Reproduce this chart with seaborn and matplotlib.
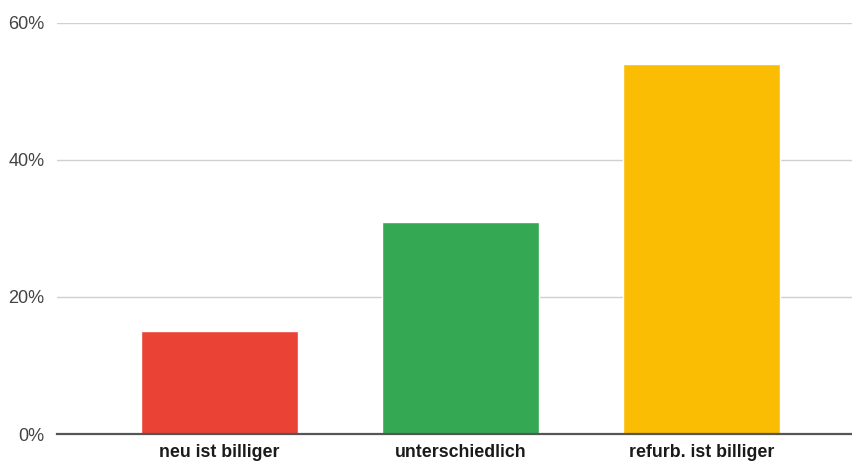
import matplotlib
matplotlib.use("Agg")
import matplotlib.pyplot as plt
import seaborn as sns
import pandas as pd
from matplotlib.ticker import FuncFormatter

categories = ["neu ist billiger", "unterschiedlich", "refurb. ist billiger"]
values = [15, 31, 54]
colors = ["#EA4335", "#34A853", "#FBBC04"]
yticks = [0, 20, 40, 60]

sns.set_theme(style="white")
plt.rcParams["font.family"] = ["Liberation Sans", "DejaVu Sans"]

df = pd.DataFrame({"cat": categories, "val": values})

fig = plt.figure(figsize=(8.53, 4.62), dpi=100)
ax = fig.add_axes([0.0668, 0.0606, 0.9332, 0.890])

sns.barplot(data=df, x="cat", y="val", hue="cat", palette=colors,
            width=0.65, legend=False, ax=ax, saturation=1)

ax.set_ylim(0, 60)
ax.set_xlim(-0.676, 2.63)
ax.set_yticks(yticks)
ax.yaxis.set_major_formatter(FuncFormatter(lambda v, p: f"{int(v)}%"))
ax.grid(axis="y", color="#d0d0d0", linewidth=1.0)
ax.set_axisbelow(True)
for s in ["top", "right", "left"]:
    ax.spines[s].set_visible(False)
ax.spines["bottom"].set_color("#555555")
ax.spines["bottom"].set_linewidth(1.6)
ax.spines["bottom"].set_zorder(5)
ax.tick_params(axis="y", length=0, pad=9, labelsize=13, labelcolor="#444444")
ax.tick_params(axis="x", length=0, pad=7.5, labelsize=12.8, labelcolor="#1a1a1a")
for lbl in ax.get_xticklabels():
    lbl.set_fontweight("bold")
ax.set_xlabel("")
ax.set_ylabel("")

fig.savefig("out.png", dpi=100)
